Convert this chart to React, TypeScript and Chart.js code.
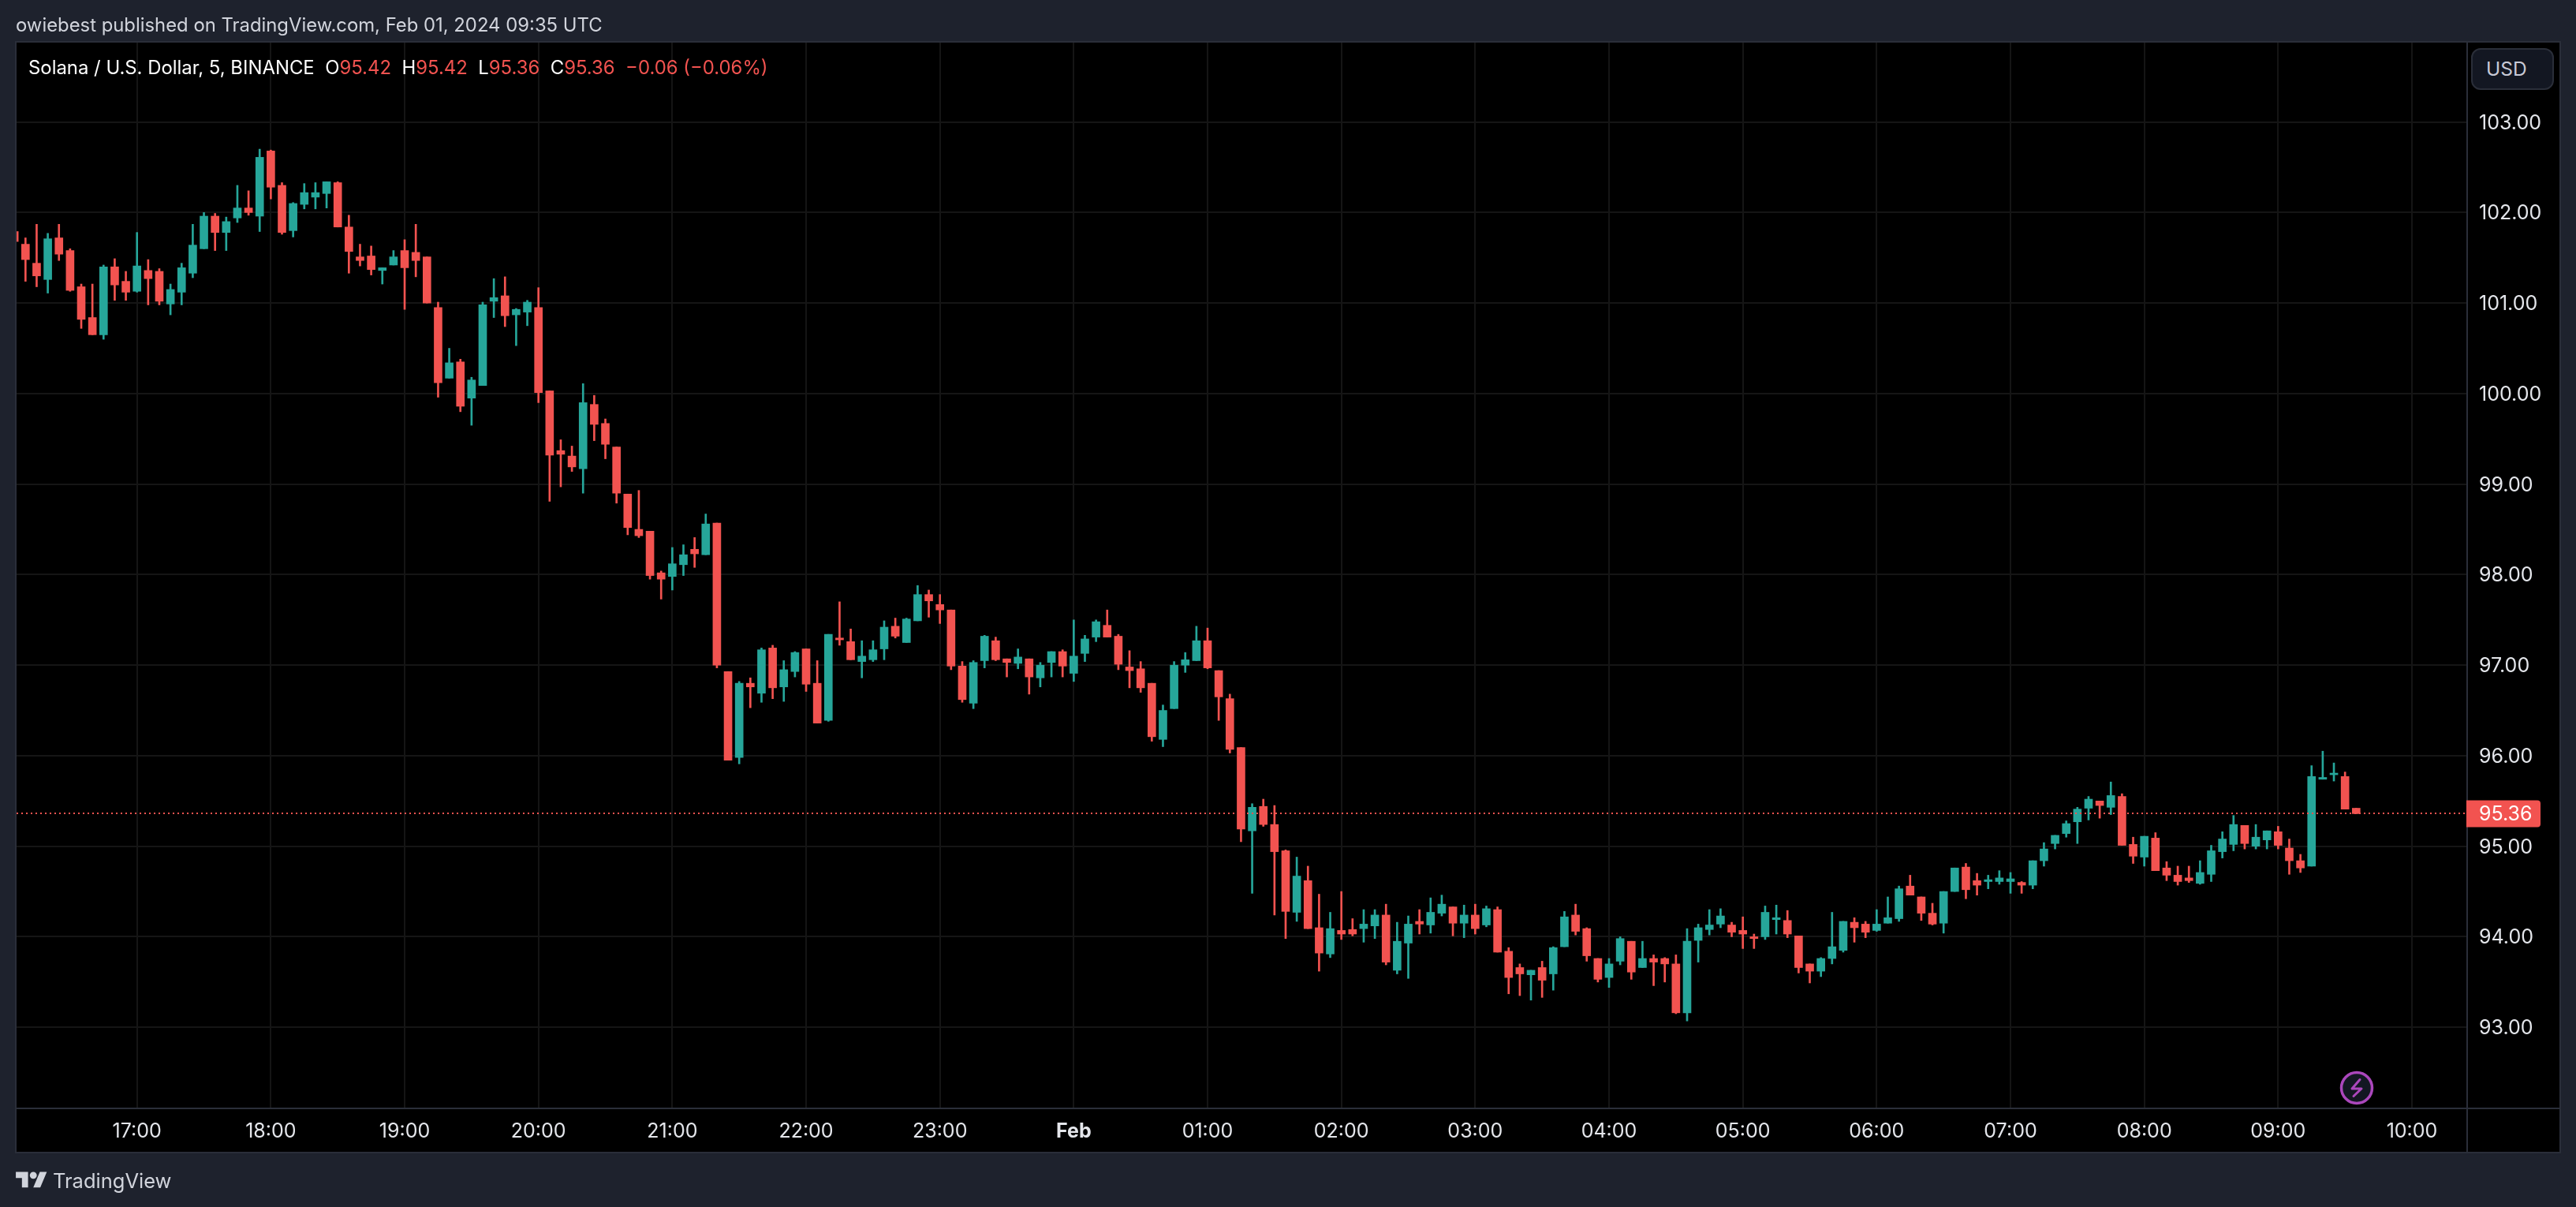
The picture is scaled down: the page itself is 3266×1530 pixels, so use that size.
import React, { useEffect, useRef } from "react";
import { Chart, registerables } from "chart.js";

Chart.register(...registerables);

const firstBar = -11;

const opens = [
  101.79,101.65,101.44,101.26,101.72,101.58,101.18,100.84,100.65,101.40,
  101.24,101.13,101.36,101.35,100.99,101.12,101.33,101.60,101.96,101.78,
  101.94,102.05,101.96,102.68,102.30,101.80,102.09,102.17,102.21,102.33,
  101.84,101.51,101.52,101.36,101.42,101.58,101.56,101.51,100.95,100.17,
  100.35,99.95,100.09,101.02,101.08,100.87,100.90,100.95,100.03,99.37,
  99.31,99.17,99.88,99.67,99.41,98.89,98.50,98.48,98.02,97.98,
  98.11,98.28,98.22,98.57,96.93,95.98,96.80,96.69,97.19,96.76,
  96.93,97.18,96.80,96.39,97.30,97.26,97.04,97.06,97.18,97.43,
  97.25,97.49,97.78,97.67,97.61,96.99,96.58,97.05,97.27,97.07,
  97.02,97.07,96.86,97.03,97.15,96.91,97.13,97.31,97.44,97.32,
  96.98,96.96,96.80,96.18,96.52,97.00,97.05,97.27,96.94,96.63,
  96.09,95.17,95.44,95.24,94.95,94.27,94.62,94.10,93.81,94.07,
  94.08,94.09,94.12,94.24,93.63,93.93,94.17,94.13,94.26,94.33,
  94.15,94.24,94.13,94.30,93.84,93.66,93.58,93.66,93.59,93.89,
  94.24,94.09,93.76,93.55,93.73,93.95,93.66,93.76,93.76,93.70,
  93.16,93.96,94.08,94.14,94.13,94.07,94.00,94.00,94.19,94.18,
  94.01,93.70,93.62,93.76,93.85,94.16,94.14,94.07,94.15,94.20,
  94.56,94.44,94.26,94.15,94.50,94.77,94.62,94.61,94.61,94.61,
  94.60,94.57,94.84,95.03,95.14,95.27,95.42,95.50,95.43,95.55,
  95.02,94.88,95.09,94.76,94.68,94.65,94.59,94.69,94.94,95.02,
  95.23,95.00,95.07,95.16,94.98,94.84,94.78,95.74,95.79,95.77,95.42,
];

const highs = [
  101.79,101.72,101.87,101.77,101.87,101.60,101.21,101.21,101.42,101.49,
  101.35,101.78,101.48,101.38,101.21,101.44,101.87,102.00,101.99,101.95,
  102.30,102.24,102.70,102.69,102.33,102.11,102.32,102.33,102.34,102.34,
  101.97,101.65,101.63,101.39,101.58,101.70,101.87,101.51,101.01,100.50,
  100.38,100.18,101.01,101.27,101.29,100.94,101.03,101.17,100.03,99.49,
  99.42,100.11,99.98,99.72,99.41,98.89,98.93,98.48,98.04,98.30,
  98.33,98.41,98.67,98.57,96.93,96.82,96.86,97.19,97.22,97.05,
  97.15,97.18,97.05,97.34,97.70,97.40,97.27,97.27,97.49,97.52,
  97.52,97.88,97.83,97.78,97.61,97.04,97.05,97.33,97.31,97.07,
  97.18,97.07,97.03,97.15,97.17,97.50,97.33,97.50,97.61,97.34,
  97.16,97.04,96.80,96.56,97.04,97.14,97.43,97.41,96.94,96.68,
  96.09,95.47,95.52,95.45,94.96,94.88,94.78,94.47,94.27,94.50,
  94.20,94.30,94.30,94.36,94.16,94.23,94.30,94.43,94.46,94.33,
  94.35,94.36,94.34,94.33,93.88,93.70,93.63,93.73,93.89,94.28,
  94.36,94.10,93.76,93.76,94.00,93.95,93.95,93.80,93.77,93.80,
  94.09,94.14,94.30,94.31,94.16,94.22,94.03,94.34,94.35,94.29,
  94.01,93.70,93.77,94.27,94.17,94.21,94.17,94.30,94.44,94.56,
  94.68,94.44,94.37,94.50,94.76,94.81,94.70,94.68,94.73,94.71,
  94.61,94.84,95.04,95.12,95.28,95.43,95.55,95.50,95.71,95.58,
  95.10,95.11,95.15,94.83,94.78,94.78,94.84,95.01,95.16,95.34,
  95.23,95.24,95.17,95.22,95.08,94.91,95.89,96.05,95.92,95.82,95.42,
];

const lows = [
  101.68,101.24,101.18,101.11,101.47,101.13,100.72,100.65,100.60,101.03,
  101.03,101.12,100.98,100.98,100.87,100.98,101.28,101.60,101.58,101.58,
  101.89,101.97,101.79,102.15,101.76,101.73,102.04,102.04,102.05,101.84,
  101.33,101.41,101.31,101.21,101.42,100.93,101.29,101.00,99.96,100.17,
  99.80,99.65,100.09,100.84,100.74,100.53,100.75,99.90,98.81,98.97,
  99.14,98.90,99.48,99.28,98.79,98.44,98.41,97.95,97.73,97.83,
  97.99,98.08,98.22,96.97,95.95,95.91,96.53,96.59,96.63,96.60,
  96.87,96.71,96.36,96.38,97.22,97.06,96.86,97.04,97.06,97.30,
  97.25,97.49,97.53,97.46,96.95,96.59,96.52,96.97,97.05,96.87,
  96.96,96.68,96.76,96.87,96.87,96.82,97.04,97.26,97.31,96.95,
  96.75,96.70,96.16,96.10,96.52,96.92,97.05,96.96,96.39,96.03,
  95.05,94.48,95.22,94.24,93.98,94.17,94.09,93.62,93.77,93.97,
  94.01,93.94,93.98,93.69,93.59,93.54,94.03,94.04,94.23,94.01,
  93.99,94.03,94.11,93.83,93.37,93.35,93.30,93.33,93.41,93.89,
  94.02,93.73,93.50,93.44,93.69,93.53,93.66,93.46,93.50,93.15,
  93.07,93.72,94.02,94.10,94.00,93.87,93.87,93.97,94.03,93.99,
  93.60,93.49,93.56,93.70,93.83,93.94,93.99,94.06,94.15,94.17,
  94.46,94.18,94.13,94.04,94.50,94.42,94.46,94.53,94.58,94.48,
  94.48,94.53,94.78,94.97,95.10,95.03,95.29,95.31,95.35,95.01,
  94.81,94.78,94.73,94.62,94.57,94.60,94.58,94.61,94.87,94.95,
  94.97,94.97,94.97,94.97,94.69,94.71,94.78,95.74,95.72,95.41,95.36,
];

const closes = [
  101.68,101.48,101.30,101.71,101.54,101.14,100.82,100.65,101.40,101.20,
  101.12,101.41,101.27,101.02,101.15,101.39,101.64,101.96,101.78,101.90,
  102.05,102.00,102.61,102.28,101.78,102.10,102.22,102.22,102.34,101.84,
  101.57,101.47,101.37,101.39,101.51,101.39,101.47,101.00,100.12,100.34,
  99.86,100.15,100.98,101.06,100.86,100.93,101.01,100.01,99.32,99.33,
  99.19,99.90,99.66,99.44,98.90,98.52,98.43,97.99,97.95,98.12,
  98.22,98.23,98.56,97.00,95.95,96.80,96.76,97.17,96.75,96.95,
  97.14,96.79,96.36,97.34,97.28,97.06,97.10,97.17,97.42,97.32,
  97.51,97.78,97.71,97.61,96.99,96.62,97.03,97.32,97.06,97.03,
  97.09,96.87,97.00,97.15,96.99,97.10,97.29,97.48,97.31,97.01,
  96.94,96.75,96.21,96.50,97.00,97.06,97.27,96.97,96.65,96.07,
  95.19,95.43,95.24,94.94,94.28,94.67,94.09,93.82,94.09,94.03,
  94.03,94.14,94.24,93.72,93.95,94.14,94.14,94.27,94.36,94.15,
  94.24,94.09,94.31,93.83,93.55,93.59,93.63,93.52,93.88,94.22,
  94.06,93.79,93.53,93.70,93.98,93.61,93.76,93.72,93.70,93.16,
  93.95,94.10,94.13,94.23,94.05,94.03,93.98,94.27,94.21,94.03,
  93.66,93.62,93.76,93.89,94.17,94.10,94.05,94.14,94.21,94.53,
  94.46,94.26,94.14,94.50,94.76,94.52,94.57,94.63,94.65,94.64,
  94.57,94.84,94.97,95.12,95.25,95.41,95.52,95.45,95.56,95.01,
  94.89,95.11,94.73,94.68,94.61,94.62,94.71,94.95,95.08,95.24,
  95.03,95.10,95.17,95.01,94.84,94.76,95.77,95.76,95.80,95.41,95.36,
];

const timeLabels = ["17:00","18:00","19:00","20:00","21:00","22:00","23:00","Feb","01:00","02:00","03:00","04:00","05:00","06:00","07:00","08:00","09:00","10:00"];
const barsPerHour = 12;
const priceTicks = [93, 94, 95, 96, 97, 98, 99, 100, 101, 102, 103];
const lastPrice = 95.36;

const UP = "#26a69a";
const DOWN = "#f25350";
const PANEL = "#1e222d";
const LINE = "#2a2e39";
const GRID = "#151515";
const FONT = "Inter, 'Noto Sans', sans-serif";

const barX = opens.map((_, i) => firstBar + i);
const colors = opens.map((o, i) => (closes[i] >= o ? UP : DOWN));

const framePlugin = {
  id: "frame",
  beforeDraw(chart: any) {
    const { ctx, chartArea, scales } = chart;
    ctx.save();
    ctx.fillStyle = "#000";
    ctx.fillRect(chartArea.left, chartArea.top, scales.y.right - chartArea.left, scales.x.bottom - chartArea.top);
    ctx.restore();
    // price labels sit a touch lower than the canvas middle baseline
    scales.y.getLabelItems().forEach((item: any) => {
      item.options.translation[1] = scales.y.getPixelForValue(Number(item.label)) + 1.5;
    });
  },
  afterDraw(chart: any) {
    const { ctx, chartArea, scales } = chart;
    const right = scales.y.right;
    const bottom = scales.x.bottom;
    ctx.save();
    ctx.strokeStyle = LINE;
    ctx.lineWidth = 2;
    ctx.strokeRect(chartArea.left - 1, chartArea.top - 1, right - chartArea.left + 2, bottom - chartArea.top + 2);
    ctx.beginPath();
    ctx.moveTo(chartArea.left, chartArea.bottom + 1);
    ctx.lineTo(right, chartArea.bottom + 1);
    ctx.moveTo(chartArea.right + 1, chartArea.top);
    ctx.lineTo(chartArea.right + 1, bottom);
    ctx.stroke();
    // last price tag
    const y = scales.y.getPixelForValue(lastPrice);
    ctx.fillStyle = DOWN;
    ctx.beginPath();
    ctx.roundRect(chartArea.right, y - 17, 94, 34, [0, 4, 4, 0]);
    ctx.fill();
    ctx.fillStyle = "#fff";
    ctx.font = "25px " + FONT;
    ctx.textAlign = "left";
    ctx.textBaseline = "middle";
    ctx.fillText(lastPrice.toFixed(2), chartArea.right + 16, y + 1);
    ctx.restore();
  },
  afterDatasetsDraw(chart: any) {
    const { ctx, chartArea, scales } = chart;
    const y = Math.round(scales.y.getPixelForValue(lastPrice));
    ctx.save();
    ctx.strokeStyle = DOWN;
    ctx.lineWidth = 2;
    ctx.setLineDash([2, 4]);
    ctx.beginPath();
    ctx.moveTo(chartArea.left, y);
    ctx.lineTo(chartArea.right, y);
    ctx.stroke();
    ctx.restore();
  },
};

export default function App() {
  const ref = useRef<HTMLCanvasElement>(null);

  useEffect(() => {
    document.body.style.margin = "0";
    const chart = new Chart(ref.current as HTMLCanvasElement, {
      type: "bar",
      data: {
        datasets: [
          {
            label: "Body",
            data: barX.map((x, i) => ({ x, y: [Math.min(opens[i], closes[i]), Math.max(opens[i], closes[i])] })),
            backgroundColor: colors,
            barThickness: 10,
            minBarLength: 2,
            grouped: false,
          },
          {
            label: "Wick",
            data: barX.map((x, i) => ({ x, y: [lows[i], highs[i]] })),
            backgroundColor: colors,
            barThickness: 2,
            grouped: false,
          },
        ] as any,
      },
      options: {
        responsive: false,
        animation: false,
        events: [],
        layout: { padding: { left: 21, top: 54, right: 21, bottom: 70 } },
        plugins: { legend: { display: false }, tooltip: { enabled: false } },
        scales: {
          x: {
            type: "linear",
            min: -10.8,
            max: 208.88,
            offset: false,
            afterBuildTicks(axis: any) {
              axis.ticks = timeLabels.map((_, i) => ({ value: i * barsPerHour }));
            },
            afterFit(axis: any) {
              axis.height = 56;
            },
            grid: { color: GRID, lineWidth: 2, drawTicks: false, offset: false },
            border: { display: false },
            ticks: {
              autoSkip: false,
              maxRotation: 0,
              padding: 15,
              color: "#e4e6eb",
              font: (c: any) => ({
                family: FONT,
                size: 25,
                weight: c.tick && timeLabels[Math.round(c.tick.value / barsPerHour)] === "Feb" ? "bold" : "normal",
              }),
              callback: (v: any) => timeLabels[Math.round(Number(v) / barsPerHour)],
            },
          },
          y: {
            position: "right",
            min: 92.113,
            max: 103.877,
            afterBuildTicks(axis: any) {
              axis.ticks = priceTicks.map((value) => ({ value }));
            },
            afterFit(axis: any) {
              axis.width = 118;
            },
            grid: { color: GRID, lineWidth: 2, drawTicks: false },
            border: { display: false },
            ticks: {
              padding: 16,
              color: "#e4e6eb",
              font: { family: FONT, size: 25 },
              callback: (v: any) => Number(v).toFixed(2),
            },
          },
        },
      },
      plugins: [framePlugin],
    } as any);
    return () => chart.destroy();
  }, []);

  const text: React.CSSProperties = { position: "absolute", whiteSpace: "pre", fontFamily: FONT, lineHeight: 1 };
  const red = { color: DOWN };

  return (
    <div style={{ position: "absolute", left: 0, top: 0, width: 3266, height: 1530, background: PANEL, overflow: "hidden" }}>
      <canvas ref={ref} width={3266} height={1530} style={{ position: "absolute", left: 0, top: 0, display: "block" }} />
      <div style={{ ...text, left: 20, top: 20, fontSize: 23.85, color: "#d1d4dc" }}>owiebest published on TradingView.com, Feb 01, 2024 09:35 UTC</div>
      <div style={{ ...text, left: 36, top: 74, fontSize: 23.9, color: "#fff" }}>
        {"Solana / U.S. Dollar, 5, BINANCE  O"}
        <span style={red}>95.42</span>
        {"  H"}
        <span style={red}>95.42</span>
        {"  L"}
        <span style={red}>95.36</span>
        {"  C"}
        <span style={red}>95.36</span>
        <span style={red}>{"  −0.06 (−0.06%)"}</span>
      </div>
      <div style={{ position: "absolute", left: 3133, top: 61, width: 105, height: 53, boxSizing: "border-box", background: "#131722", border: "2px solid #2a2e39", borderRadius: 12 }} />
      <div style={{ ...text, left: 3152, top: 75, fontSize: 24.5, color: "#c8cad6" }}>USD</div>
      <svg style={{ position: "absolute", left: 2965, top: 1355.5 }} width="46" height="46" viewBox="0 0 46 46">
        <circle cx="23" cy="23" r="19.5" fill="#131722" stroke="#ab47bc" strokeWidth="3.5" />
        <path d="M27 12.5 L17 24 H29 L19 33.5" fill="none" stroke="#ab47bc" strokeWidth="3" strokeLinecap="round" strokeLinejoin="round" />
      </svg>
      <svg style={{ position: "absolute", left: 20, top: 1481 }} width="40" height="31" viewBox="0 0 36 28">
        <path d="M14 22H7V11H0V4h14v18zM28 22h-8l7.5-18h8L28 22z" fill="#d1d4dc" />
        <circle cx="20" cy="8" r="4" fill="#d1d4dc" />
      </svg>
      <div style={{ ...text, left: 67, top: 1484, fontSize: 25.5, color: "#d1d4dc" }}>TradingView</div>
    </div>
  );
}
